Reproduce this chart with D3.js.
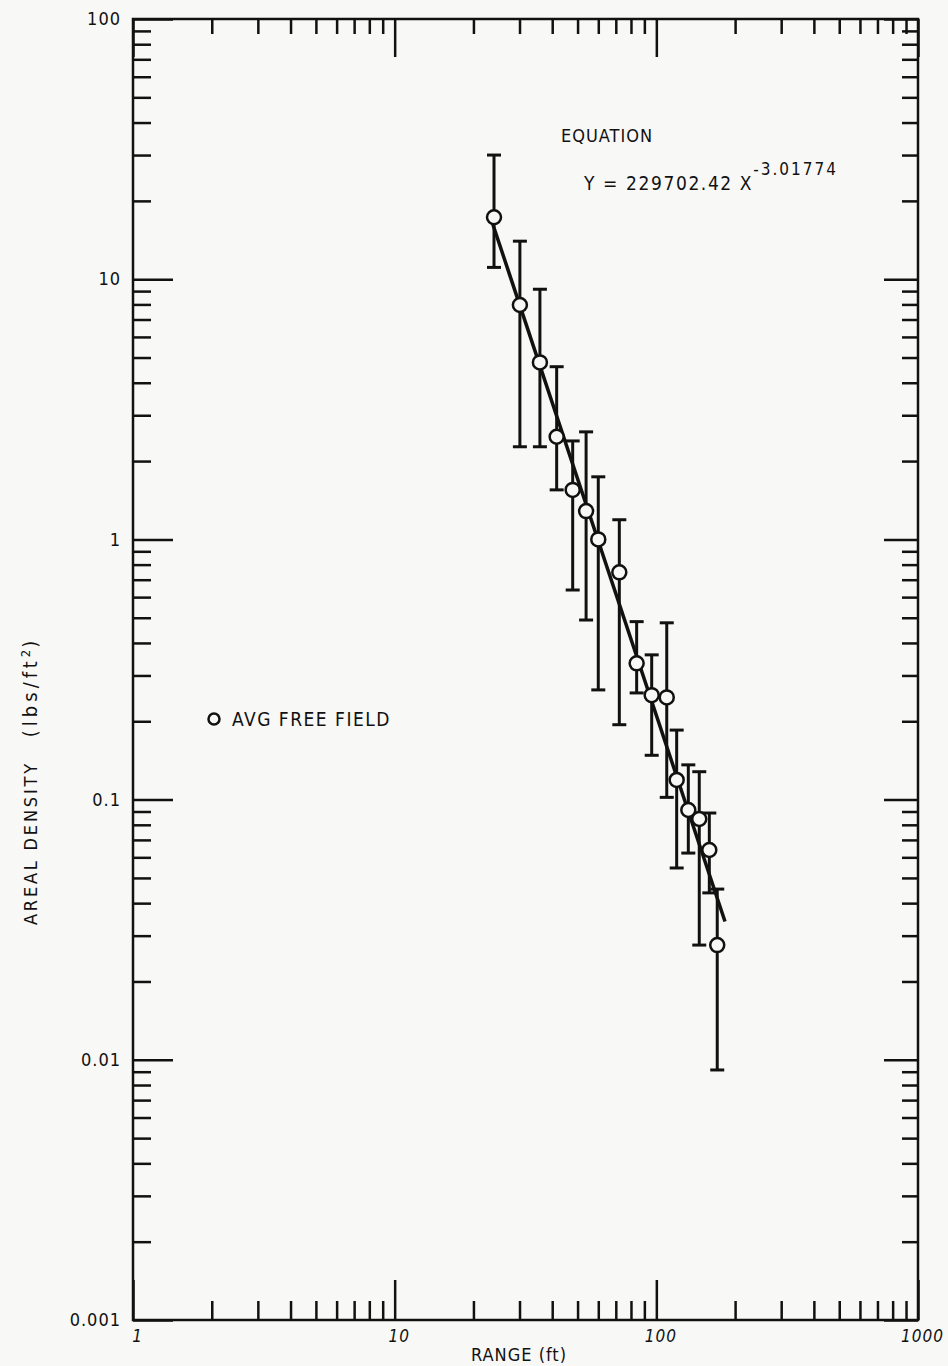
<!DOCTYPE html>
<html>
<head>
<meta charset="utf-8">
<script src="https://cdn.jsdelivr.net/npm/d3@7"></script>
<style>
  body { margin: 0; background: #f8f8f6; }
  svg text { font-family: "DejaVu Sans Condensed", "DejaVu Sans", sans-serif; font-stretch: condensed; fill: #111; }
</style>
</head>
<body>
<div id="chart"></div>
<script>
// range (ft) of each averaged measurement
const rangeFt = [23.97, 30.1, 35.9, 41.6, 47.9, 53.9, 60.0, 72.2, 84.1, 96.0, 109.6, 119.6, 132.5, 145.9, 159.4, 170.9];
// average areal density (lbs/ft^2)
const density = [17.3, 7.96, 4.79, 2.48, 1.55, 1.285, 1.0, 0.747, 0.334, 0.252, 0.247, 0.119, 0.0912, 0.0842, 0.064, 0.0276];
// error bar top / bottom
const densityHigh = [30.0, 14.0, 9.15, 4.61, 2.39, 2.59, 1.74, 1.19, 0.483, 0.36, 0.478, 0.185, 0.136, 0.128, 0.0888, 0.0453];
const densityLow = [11.1, 2.27, 2.27, 1.55, 0.639, 0.49, 0.264, 0.194, 0.257, 0.148, 0.102, 0.0546, 0.0623, 0.0276, 0.0438, 0.00914];
// fitted power law endpoints
const fitX = [23.7, 183];
const fitY = [16.3, 0.034];

const xDecades = [1, 10, 100, 1000];
const yDecades = [0.001, 0.01, 0.1, 1, 10, 100];
const xTickLabels = ["1", "10", "100", "1000"];
const yTickLabels = ["0.001", "0.01", "0.1", "1", "10", "100"];

const W = 948, H = 1366;
const L = 133, R = 918, T = 19, B = 1320;
const ink = "#111";

const svg = d3.select("#chart").append("svg")
    .attr("width", W)
    .attr("height", H)
    .style("background", "#f8f8f6");

const x = d3.scaleLog().domain([1, 1000]).range([L, R]);
const y = d3.scaleLog().domain([0.001, 100]).range([B, T]);

const minorX = x.ticks().filter(v => !xDecades.includes(v));
const minorY = y.ticks().filter(v => !yDecades.includes(v));

function styleAxis(g) {
    g.select(".domain").remove();
    g.selectAll(".tick line").attr("stroke", ink).attr("stroke-width", 2.5);
    g.selectAll(".tick text").attr("fill", ink).style("font-size", "18px").style("letter-spacing", "1px");
}

// minor ticks, all four sides, pointing inward
svg.append("g").attr("transform", `translate(0,${B})`)
    .call(d3.axisBottom(x).tickValues(minorX).tickSize(-19).tickFormat(""))
    .call(styleAxis);
svg.append("g").attr("transform", `translate(0,${T})`)
    .call(d3.axisTop(x).tickValues(minorX).tickSize(-15).tickFormat(""))
    .call(styleAxis);
svg.append("g").attr("transform", `translate(${L},0)`)
    .call(d3.axisLeft(y).tickValues(minorY).tickSize(-18).tickFormat(""))
    .call(styleAxis);
svg.append("g").attr("transform", `translate(${R},0)`)
    .call(d3.axisRight(y).tickValues(minorY).tickSize(-16).tickFormat(""))
    .call(styleAxis);

// major ticks with labels
svg.append("g").attr("transform", `translate(0,${B})`)
    .call(d3.axisBottom(x).tickValues(xDecades).tickSize(-40).tickPadding(10)
        .tickFormat((d, i) => xTickLabels[i]))
    .call(styleAxis)
    .call(g => g.selectAll(".tick text").style("font-style", "italic").style("font-size", "17px").attr("dx", 4));
svg.append("g").attr("transform", `translate(0,${T})`)
    .call(d3.axisTop(x).tickValues(xDecades).tickSize(-38).tickFormat(""))
    .call(styleAxis);
svg.append("g").attr("transform", `translate(${L},0)`)
    .call(d3.axisLeft(y).tickValues(yDecades).tickSize(-40).tickPadding(12)
        .tickFormat((d, i) => yTickLabels[i]))
    .call(styleAxis);
svg.append("g").attr("transform", `translate(${R},0)`)
    .call(d3.axisRight(y).tickValues(yDecades).tickSize(-34).tickFormat(""))
    .call(styleAxis);

// frame
svg.append("rect")
    .attr("x", L).attr("y", T)
    .attr("width", R - L).attr("height", B - T)
    .attr("fill", "none")
    .attr("stroke", ink)
    .attr("stroke-width", 2.5);

// data
const pts = rangeFt.map((r, i) => ({ r, d: density[i], hi: densityHigh[i], lo: densityLow[i] }));
const cap = 7;

const bars = svg.append("g").attr("stroke", ink).attr("stroke-width", 3);
bars.selectAll(".eb").data(pts).enter().append("line")
    .attr("x1", p => x(p.r)).attr("x2", p => x(p.r))
    .attr("y1", p => y(p.hi)).attr("y2", p => y(p.lo));
bars.selectAll(".capHi").data(pts).enter().append("line")
    .attr("x1", p => x(p.r) - cap).attr("x2", p => x(p.r) + cap)
    .attr("y1", p => y(p.hi)).attr("y2", p => y(p.hi));
bars.selectAll(".capLo").data(pts).enter().append("line")
    .attr("x1", p => x(p.r) - cap).attr("x2", p => x(p.r) + cap)
    .attr("y1", p => y(p.lo)).attr("y2", p => y(p.lo));

// fitted line
svg.append("path")
    .datum(fitX.map((v, i) => [v, fitY[i]]))
    .attr("d", d3.line().x(d => x(d[0])).y(d => y(d[1])))
    .attr("fill", "none")
    .attr("stroke", ink)
    .attr("stroke-width", 3.5);

svg.append("g").selectAll("circle").data(pts).enter().append("circle")
    .attr("cx", p => x(p.r))
    .attr("cy", p => y(p.d))
    .attr("r", 7)
    .attr("fill", "#f8f8f6")
    .attr("stroke", ink)
    .attr("stroke-width", 2.5);

// legend
svg.append("circle")
    .attr("cx", 214).attr("cy", 719).attr("r", 5.5)
    .attr("fill", "none").attr("stroke", ink).attr("stroke-width", 2.5);
svg.append("text")
    .attr("x", 232).attr("y", 726)
    .style("font-size", "19px")
    .style("letter-spacing", "1.5px")
    .text("AVG FREE FIELD");

// equation
svg.append("text")
    .attr("x", 561).attr("y", 142)
    .style("font-size", "18px")
    .style("letter-spacing", "1px")
    .text("EQUATION");
const eq = svg.append("text")
    .attr("x", 584).attr("y", 190)
    .style("font-size", "19px")
    .style("letter-spacing", "1.6px");
eq.append("tspan").text("Y = 229702.42 X");
eq.append("tspan").attr("dy", -15).attr("dx", 0).style("font-size", "17px")
    .style("letter-spacing", "2px").text("-3.01774");

// axis titles
svg.append("text")
    .attr("x", 519).attr("y", 1361)
    .attr("text-anchor", "middle")
    .style("font-size", "18px")
    .style("letter-spacing", "1px")
    .text("RANGE (ft)");
const yl = svg.append("text")
    .attr("transform", "translate(37,925) rotate(-90)")
    .style("font-size", "18px");
yl.append("tspan").style("letter-spacing", "2.8px").text("AREAL DENSITY");
yl.append("tspan").attr("dx", 24).style("font-size", "20px").style("letter-spacing", "4px").text("(lbs/ft");
yl.append("tspan").attr("dy", -7).style("font-size", "13px").text("2");
yl.append("tspan").attr("dy", 7).attr("dx", 2).style("font-size", "20px").text(")");
</script>
</body>
</html>
